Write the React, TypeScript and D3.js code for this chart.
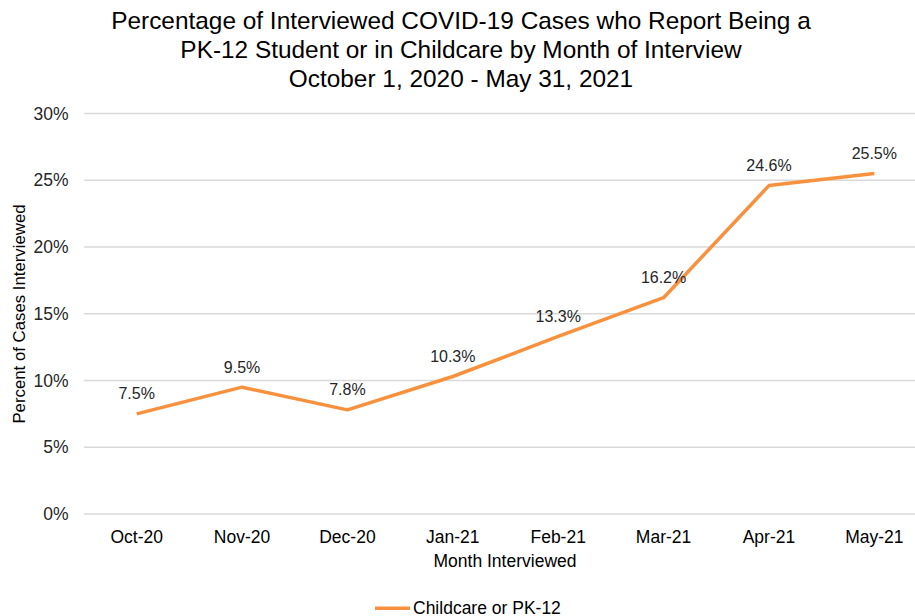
import React from "react";
import * as d3 from "d3";

const months = ["Oct-20", "Nov-20", "Dec-20", "Jan-21", "Feb-21", "Mar-21", "Apr-21", "May-21"];
const values = [7.5, 9.5, 7.8, 10.3, 13.3, 16.2, 24.6, 25.5];
const yTicks = [0, 5, 10, 15, 20, 25, 30];
const titleLines = [
  "Percentage of Interviewed COVID-19 Cases who Report Being a",
  "PK-12 Student or in Childcare by Month of Interview",
  "October 1, 2020 - May 31, 2021",
];
const seriesName = "Childcare or PK-12";

const W = 915;
const H = 616;
const FONT = "'Liberation Sans', Arial, sans-serif";
const ORANGE = "#F8913D";

export default function App() {
  const x = d3.scaleBand<string>().domain(months).range([84, 927]).padding(0);
  const y = d3.scaleLinear().domain([0, 30]).range([514, 113.5]);
  const cx = (m: string) => (x(m) as number) + x.bandwidth() / 2;
  const line = d3
    .line<number>()
    .x((_, i) => cx(months[i]))
    .y((d) => y(d));

  return (
    <svg width={W} height={H} style={{ position: "absolute", left: 0, top: 0, background: "#fff" }} fontFamily={FONT}>
      <rect x={0} y={0} width={W} height={H} fill="#fff" />
      {titleLines.map((t, i) => (
        <text key={i} x={461} y={29.3 + i * 28.7} textAnchor="middle" fontSize={24.4} fill="#000">
          {t}
        </text>
      ))}
      {yTicks.map((t) => (
        <g key={t}>
          <line x1={84} x2={927} y1={y(t)} y2={y(t)} stroke="#d9d9d9" strokeWidth={1.3} />
          <text x={68.5} y={y(t)} dy="0.35em" textAnchor="end" fontSize={17.5} fill="#262626">
            {t}%
          </text>
        </g>
      ))}
      {months.map((m) => (
        <text key={m} x={cx(m)} y={542.7} textAnchor="middle" fontSize={17.5} fill="#000">
          {m}
        </text>
      ))}
      <text x={505} y={566.7} textAnchor="middle" fontSize={17.5} fill="#000">
        Month Interviewed
      </text>
      <text
        transform={`translate(25,314) rotate(-90)`}
        textAnchor="middle"
        fontSize={16.8}
        fill="#000"
      >
        Percent of Cases Interviewed
      </text>
      <path d={line(values) || ""} fill="none" stroke={ORANGE} strokeWidth={3.5} strokeLinejoin="round" />
      {values.map((v, i) => (
        <text key={i} x={cx(months[i])} y={y(v) - 20} dy="0.35em" textAnchor="middle" fontSize={16} fill="#262626">
          {v.toFixed(1)}%
        </text>
      ))}
      <line x1={375} x2={410} y1={608.3} y2={608.3} stroke={ORANGE} strokeWidth={3.5} />
      <text x={413} y={613.5} fontSize={17.5} fill="#000">
        {seriesName}
      </text>
    </svg>
  );
}
